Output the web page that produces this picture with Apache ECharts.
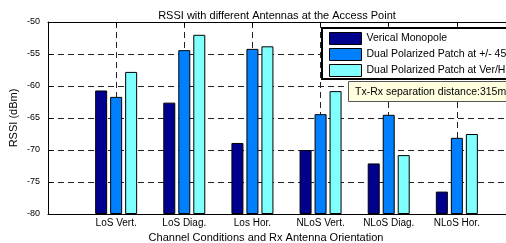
<!DOCTYPE html>
<html>
<head>
<meta charset="utf-8">
<script src="https://cdn.jsdelivr.net/npm/echarts@6/dist/echarts.min.js"></script>
<style>
html, body { margin: 0; padding: 0; width: 506px; height: 243px; overflow: hidden; background: #fff; }
#chart { width: 560px; height: 243px; }
</style>
</head>
<body>
<div id="chart"></div>
<script>
// ---- data ----
const categories = ['LoS Vert.', 'LoS Diag.', 'Los Hor.', 'NLoS Vert.', 'NLoS Diag.', 'NLoS Hor.'];
const seriesNames = ['Verical Monopole', 'Dual Polarized Patch at +/- 45\u00b0', 'Dual Polarized Patch at Ver/Hor'];
const verticalMonopole = [-60.7, -62.6, -68.9, -70.0, -72.1, -76.5];
const patch45 = [-61.7, -54.4, -54.2, -64.4, -64.5, -68.1];
const patchVerHor = [-57.8, -52.0, -53.8, -60.8, -70.8, -67.5];
const yTicks = [-80, -75, -70, -65, -60, -55, -50];
const titleText = 'RSSI with different Antennas at the Access Point';
const xTitle = 'Channel Conditions and Rx Antenna Orientation';
const yTitle = 'RSSI (dBm)';
const noteText = 'Tx-Rx separation distance:315m';

const colors = ['#00008F', '#0080FF', '#80FFFF'];
const font = 'Liberation Sans, Arial, Helvetica, sans-serif';
const dash = { color: '#222', type: [6, 4], width: 1 };

const chart = echarts.init(document.getElementById('chart'), null, { renderer: 'canvas' });
const allSeries = [verticalMonopole, patch45, patchVerHor].map((vals, si) => ({
  name: seriesNames[si],
  type: 'bar',
  xAxisIndex: 0,
  yAxisIndex: 0,
  barWidth: 12,
  barGap: '25%',
  data: vals.map((v, i) => [i + 1, v]),
  itemStyle: { color: colors[si], borderColor: '#000', borderWidth: 1 },
  emphasis: { disabled: true },
  z: 3
}));

chart.setOption({
  animation: false,
  grid: { left: 48, top: 22, width: 477, height: 192 },
  xAxis: [{
    type: 'value', min: 0, max: categories.length + 1, interval: 1,
    position: 'bottom',
    axisLine: { show: true, onZero: false, lineStyle: { color: '#000', width: 1 } },
    axisTick: { show: true, inside: true, length: 4, lineStyle: { color: '#000' } },
    splitLine: { show: true, lineStyle: dash },
    axisLabel: {
      margin: 4, fontSize: 10, color: '#000', fontFamily: font,
      formatter: v => categories[v - 1] || ''
    }
  }, {
    type: 'value', min: 0, max: categories.length + 1, interval: 1,
    position: 'top',
    axisLine: { show: true, onZero: false, lineStyle: { color: '#000', width: 1 } },
    axisTick: { show: true, inside: true, length: 4, lineStyle: { color: '#000' } },
    splitLine: { show: false },
    axisLabel: { show: false }
  }],
  yAxis: [{
    type: 'value', min: yTicks[0], max: yTicks[yTicks.length - 1], interval: 5,
    startValue: yTicks[0],
    axisLine: { show: true, onZero: false, lineStyle: { color: '#000', width: 1 } },
    axisTick: { show: true, inside: true, length: 4, lineStyle: { color: '#000' } },
    splitLine: { show: true, lineStyle: dash },
    axisLabel: { margin: 8, fontSize: 9, color: '#000', fontFamily: font }
  }],
  legend: {
    data: seriesNames,
    orient: 'vertical',
    left: 322, top: 28,
    padding: [4, 8, 2, 7],
    itemGap: 3,
    itemWidth: 32, itemHeight: 12,
    icon: 'rect',
    backgroundColor: '#fff',
    borderColor: '#000', borderWidth: 2, borderRadius: 0,
    itemStyle: { borderColor: '#000', borderWidth: 1 },
    textStyle: { fontSize: 10.5, color: '#000', fontFamily: font },
    selectedMode: false
  },
  graphic: [
    { type: 'text', x: 277, y: 21, z: 10,
      style: { text: titleText, fontSize: 11, fontFamily: font, fill: '#000', textAlign: 'center', textVerticalAlign: 'bottom' } },
    { type: 'text', x: 266, y: 238, z: 10,
      style: { text: xTitle, fontSize: 11, fontFamily: font, fill: '#000', textAlign: 'center', textVerticalAlign: 'middle' } },
    { type: 'text', x: 14, y: 118, rotation: Math.PI / 2, z: 10,
      style: { text: yTitle, fontSize: 11, fontFamily: font, fill: '#000', textAlign: 'center', textVerticalAlign: 'middle' } },
    { type: 'rect', shape: { x: 348.5, y: 81.5, width: 200, height: 20 }, z: 10,
      style: { fill: '#ffffe0', stroke: '#555', lineWidth: 1 } },
    { type: 'text', x: 355, y: 92, z: 11,
      style: { text: noteText, fontSize: 10.5, fontFamily: font, fill: '#000', textVerticalAlign: 'middle' } }
  ],
  series: allSeries
});
</script>
</body>
</html>
